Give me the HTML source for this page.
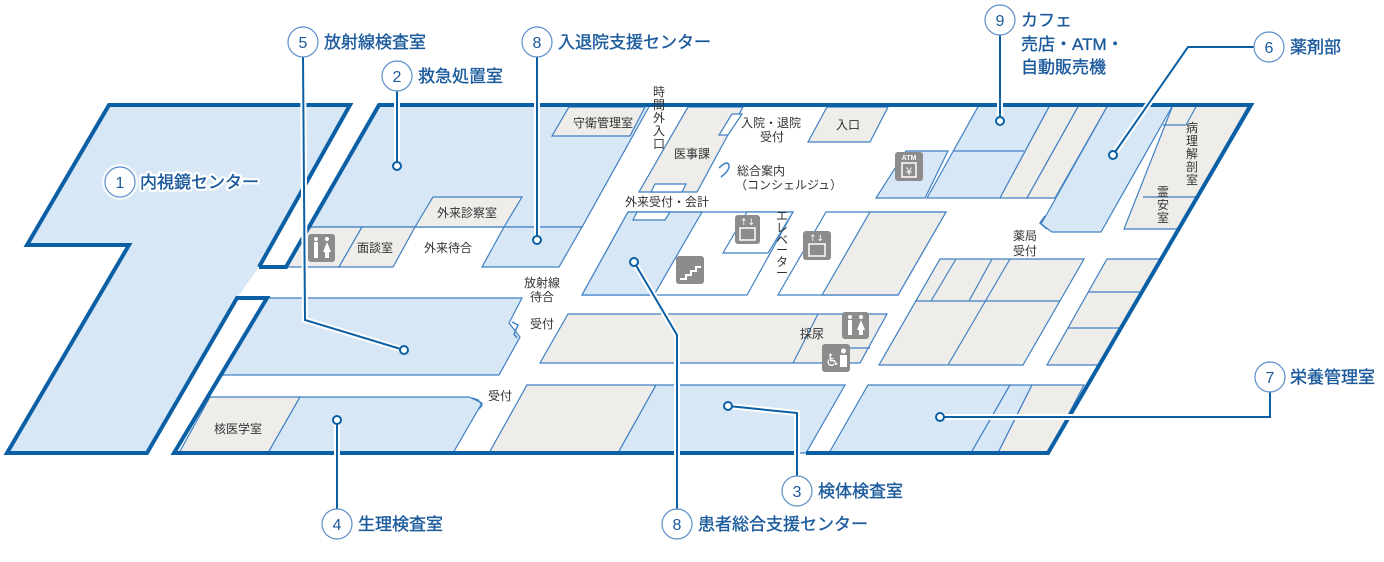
<!DOCTYPE html>
<html><head><meta charset="utf-8"><style>
html,body{margin:0;padding:0;background:#fff;}
svg{display:block;}
.lb{font-family:"Liberation Sans","Noto Sans CJK JP",sans-serif;font-size:17px;fill:#1b5a9c;stroke:#1b5a9c;stroke-width:0.35;}
.halo{stroke:#fff;stroke-width:5;stroke-linejoin:round;paint-order:stroke;}
.nm{font-family:"Liberation Sans","Noto Sans CJK JP",sans-serif;font-size:16px;fill:#1b5a9c;text-anchor:middle;}
.t{font-family:"Liberation Sans","Noto Sans CJK JP",sans-serif;font-size:12px;fill:#333;}
.b{fill:#d8e7f6;stroke:#3f80c3;stroke-width:1.2;}
.g{fill:#efedea;stroke:#3f80c3;stroke-width:1.2;}
.w{fill:#fff;stroke:#3f80c3;stroke-width:1.2;}
.ln{fill:none;stroke:#3f80c3;stroke-width:1.2;}
.th{fill:none;stroke:#0b5fa5;stroke-width:4;stroke-linejoin:miter;}
.ld{fill:none;stroke:#0b5fa5;stroke-width:2;}
.ldw{fill:none;stroke:#fff;stroke-width:6;}
.dot{fill:#fff;stroke:#0b5fa5;stroke-width:2;}
.cir{fill:#fff;stroke:#5b8fc9;stroke-width:1.2;}
.ic{fill:#8c8c8c;}
</style></head><body>
<svg width="1384" height="562" viewBox="0 0 1384 562" xmlns="http://www.w3.org/2000/svg">
<polygon points="109,105 350,105 259,267 237,298 147,453 7,453 129,245 27,245" fill="#d8e7f6"/>
<polygon points="379,105 1251,105 1048,453 174,453 267,298 286,267" fill="#fff"/>
<polygon class="b" points="379,105 650,105 582,227 308,227"/>
<polygon class="g" points="569,107 645,107 630,136 552,136"/>
<polygon class="g" points="433,197 522,197 504,227 415,227"/>
<polygon class="g" points="308,227 362,227 339,267 286,267"/>
<polygon class="g" points="362,227 415,227 393,267 339,267"/>
<polygon class="b" points="504,227 582,227 559,267 482,267"/>
<polygon class="b" points="267,298 522,298 509,323 520,337 499,375 222,375"/>
<polygon class="g" points="210,397 300,397 268,453 179,453"/>
<polygon class="b" points="300,397 469,397 482,403 453,453 268,453"/>
<polygon class="g" points="527,385 656,385 618,453 489,453"/>
<polygon class="b" points="656,385 845,385 806,453 618,453"/>
<polygon class="b" points="868,385 1010,385 971,453 829,453"/>
<polygon class="b" points="1010,385 1032,385 998,453 971,453"/>
<polygon class="g" points="1032,385 1084,385 1048,453 998,453"/>
<polygon class="g" points="568,314 887,314 860,363 540,363"/>
<line class="ln" x1="818" y1="314" x2="793" y2="363"/>
<line class="ln" x1="850" y1="348" x2="870" y2="348"/>
<polygon class="w" points="628,212 793,212 747,295 582,295"/>
<polygon class="b" points="628,212 702,212 654,295 582,295"/>
<polygon class="w" points="637,212 670,212 665,220 633,220"/>
<polygon class="w" points="747,212 793,212 768,253 723,253"/>
<polygon class="w" points="826,212 946,212 898,295 778,295"/>
<polygon class="g" points="870,212 946,212 898,295 822,295"/>
<polygon class="g" points="688,107 743,107 697,192 639,192"/>
<polygon class="w" points="655,184 686,184 682,192 651,192"/>
<polygon class="w" points="732,114 742,114 728,135 719,135"/>
<polygon class="g" points="827,107 888,107 870,142 808,142"/>
<polygon class="b" points="906,151 948,151 925,198 876,198"/>
<polygon class="b" points="979,105 1050,105 1000,198 927,198"/>
<line class="ln" x1="953" y1="151" x2="1024" y2="151"/>
<polygon class="g" points="1050,105 1079,105 1027,198 1000,198"/>
<polygon class="g" points="1079,105 1108,105 1055,198 1027,198"/>
<polygon class="b" points="1108,105 1173,105 1101,232 1052,232 1041,224 1048,212"/>
<polygon class="g" points="1173,105 1249,105 1178,229 1124,229"/>
<line class="ln" x1="1197" y1="105" x2="1186" y2="125"/>
<line class="ln" x1="1163" y1="125" x2="1186" y2="125"/>
<line class="ln" x1="1143" y1="197" x2="1197" y2="197"/>
<polygon class="g" points="940,259 1084,259 1023,365 879,365"/>
<line class="ln" x1="916" y1="301" x2="1060" y2="301"/>
<line class="ln" x1="956" y1="259" x2="931" y2="301"/>
<line class="ln" x1="992" y1="259" x2="969" y2="301"/>
<line class="ln" x1="1010" y1="259" x2="948" y2="365"/>
<polygon class="g" points="1107,259 1160,259 1099,365 1047,365"/>
<line class="ln" x1="1088" y1="292" x2="1140" y2="292"/>
<line class="ln" x1="1068" y1="328" x2="1120" y2="328"/>
<path d="M512,322 l6,3 l-4,9 l3,4" fill="none" stroke="#3f80c3" stroke-width="1.5"/>
<path d="M472,398 l6,2 l4,5 l-3,4" fill="none" stroke="#3f80c3" stroke-width="1.5"/>
<path d="M1045,216 l-5,7 l7,6" fill="none" stroke="#3f80c3" stroke-width="1.5"/>
<path d="M719,168 q8,-8 10,-3 q1,5 -8,12" fill="none" stroke="#3f80c3" stroke-width="1.5"/>
<polyline class="th" points="259,267 350,105 109,105 27,245 129,245 7,453 147,453 237,298 267,298 174,453 795,453"/>
<polyline class="th" points="806,453 1048,453 1251,105 379,105 286,267 259,267"/>
<g>
<rect class="ic" x="308" y="234" width="27" height="28" rx="3"/>
<g fill="#fff"><circle cx="316" cy="239" r="2"/><rect x="314" y="242" width="4" height="16"/><circle cx="327" cy="239" r="2"/><polygon points="327,242 331,252 323,252"/><rect x="325" y="252" width="4" height="6"/></g>
<rect class="ic" x="842" y="312" width="27" height="27" rx="3"/>
<g fill="#fff"><circle cx="850" cy="317" r="2"/><rect x="848" y="320" width="4" height="15"/><circle cx="861" cy="317" r="2"/><polygon points="861,320 865,330 857,330"/><rect x="859" y="330" width="4" height="5"/></g>
<rect class="ic" x="822" y="344" width="28" height="28" rx="3"/>
<g fill="#fff"><text x="825" y="366" font-size="17" font-family="DejaVu Sans">♿</text><rect x="840" y="355" width="7" height="12"/><circle cx="843.5" cy="351" r="2.5"/></g>
<rect class="ic" x="676" y="256" width="28" height="28" rx="3"/>
<path d="M680,279 h6 v-4 h5 v-4 h5 v-4 h5" fill="none" stroke="#fff" stroke-width="2"/>
<rect class="ic" x="735" y="215" width="25" height="29" rx="3"/>
<rect x="740" y="228" width="15" height="12" fill="none" stroke="#fff" stroke-width="1.5"/>
<text x="740" y="225" font-size="9" fill="#fff" font-family="DejaVu Sans">↑↓</text>
<rect class="ic" x="803" y="231" width="28" height="29" rx="3"/>
<rect x="809" y="244" width="16" height="12" fill="none" stroke="#fff" stroke-width="1.5"/>
<text x="809" y="241" font-size="9" fill="#fff" font-family="DejaVu Sans">↑↓</text>
<rect class="ic" x="895" y="152" width="28" height="29" rx="3"/>
<text x="909" y="160" font-size="7" fill="#fff" text-anchor="middle" font-family="Liberation Sans" font-weight="bold">ATM</text>
<rect x="902" y="163" width="14" height="14" fill="none" stroke="#fff" stroke-width="1.5"/>
<text x="909" y="175" font-size="11" fill="#fff" text-anchor="middle" font-family="Liberation Sans">¥</text>
</g>
<g class="t">
<text x="573" y="127">守衛管理室</text>
<text x="437" y="217">外来診察室</text>
<text x="357" y="252">面談室</text>
<text x="424" y="252">外来待合</text>
<text x="524" y="287">放射線</text>
<text x="530" y="301">待合</text>
<text x="530" y="328">受付</text>
<text x="488" y="400">受付</text>
<text x="214" y="433">核医学室</text>
<text x="800" y="338">採尿</text>
<text x="674" y="158">医事課</text>
<text x="741" y="127">入院・退院</text>
<text x="760" y="141">受付</text>
<text x="836" y="129">入口</text>
<text x="737" y="175">総合案内</text>
<text x="735" y="189">（コンシェルジュ）</text>
<text x="625" y="206">外来受付・会計</text>
<text x="1013" y="240">薬局</text>
<text x="1013" y="255">受付</text>
<g text-anchor="middle">
<text x="659" y="96">時</text><text x="659" y="109">間</text><text x="659" y="122">外</text><text x="659" y="135">入</text><text x="659" y="148">口</text>
<text x="782" y="220">エ</text><text x="782" y="232">レ</text><text x="782" y="244">ベ</text><text x="782" y="254">ー</text><text x="782" y="266">タ</text><text x="782" y="277">ー</text>
<text x="1192" y="132">病</text><text x="1192" y="145">理</text><text x="1192" y="158">解</text><text x="1192" y="171">剖</text><text x="1192" y="184">室</text>
<text x="1163" y="196">霊</text><text x="1163" y="209">安</text><text x="1163" y="222">室</text>
</g>
</g>
<g>
<polyline class="ldw" points="303,57 305,320 404,350"/>
<polyline class="ld" points="303,57 305,320 404,350"/>
<polyline class="ldw" points="397,91 397,166"/><polyline class="ld" points="397,91 397,166"/>
<polyline class="ldw" points="537,57 537,240"/><polyline class="ld" points="537,57 537,240"/>
<polyline class="ldw" points="1000,35 1000,121"/><polyline class="ld" points="1000,35 1000,121"/>
<polyline class="ldw" points="1254,47 1188,47 1113,155"/><polyline class="ld" points="1254,47 1188,47 1113,155"/>
<polyline class="ldw" points="1270,392 1270,417 940,417"/><polyline class="ld" points="1270,392 1270,417 940,417"/>
<polyline class="ldw" points="728,406 797,413 797,476"/><polyline class="ld" points="728,406 797,413 797,476"/>
<polyline class="ldw" points="337,420 337,509"/><polyline class="ld" points="337,420 337,509"/>
<polyline class="ldw" points="634,262 677,335 677,509"/><polyline class="ld" points="634,262 677,335 677,509"/>
<circle class="dot" cx="404" cy="350" r="4"/>
<circle class="dot" cx="397" cy="166" r="4"/>
<circle class="dot" cx="537" cy="240" r="4"/>
<circle class="dot" cx="1000" cy="121" r="4"/>
<circle class="dot" cx="1113" cy="155" r="4"/>
<circle class="dot" cx="940" cy="417" r="4"/>
<circle class="dot" cx="728" cy="406" r="4"/>
<circle class="dot" cx="337" cy="420" r="4"/>
<circle class="dot" cx="634" cy="262" r="4"/>
</g>
<g>
<circle cx="120" cy="182" r="18" fill="#fff" opacity="0.8"/>
<circle class="cir" cx="120" cy="182" r="15"/><text class="nm" x="120" y="188">1</text>
<text class="lb halo" x="140" y="188">内視鏡センター</text>
<text class="lb" x="140" y="188">内視鏡センター</text>
<circle class="cir" cx="303" cy="42" r="15"/><text class="nm" x="303" y="48">5</text>
<text class="lb" x="324" y="48">放射線検査室</text>
<circle class="cir" cx="397" cy="76" r="15"/><text class="nm" x="397" y="82">2</text>
<text class="lb" x="418" y="82">救急処置室</text>
<circle class="cir" cx="537" cy="42" r="15"/><text class="nm" x="537" y="48">8</text>
<text class="lb" x="558" y="48">入退院支援センター</text>
<circle class="cir" cx="1000" cy="20" r="15"/><text class="nm" x="1000" y="26">9</text>
<text class="lb" x="1021" y="26">カフェ</text>
<text class="lb" x="1021" y="50">売店・ATM・</text>
<text class="lb" x="1021" y="73">自動販売機</text>
<circle class="cir" cx="1269" cy="47" r="15"/><text class="nm" x="1269" y="53">6</text>
<text class="lb" x="1290" y="53">薬剤部</text>
<circle class="cir" cx="1270" cy="377" r="15"/><text class="nm" x="1270" y="383">7</text>
<text class="lb" x="1290" y="383">栄養管理室</text>
<circle class="cir" cx="797" cy="491" r="15"/><text class="nm" x="797" y="497">3</text>
<text class="lb" x="818" y="497">検体検査室</text>
<circle class="cir" cx="337" cy="524" r="15"/><text class="nm" x="337" y="530">4</text>
<text class="lb" x="358" y="530">生理検査室</text>
<circle class="cir" cx="677" cy="524" r="15"/><text class="nm" x="677" y="530">8</text>
<text class="lb" x="698" y="530">患者総合支援センター</text>
</g>
</svg>
</body></html>
